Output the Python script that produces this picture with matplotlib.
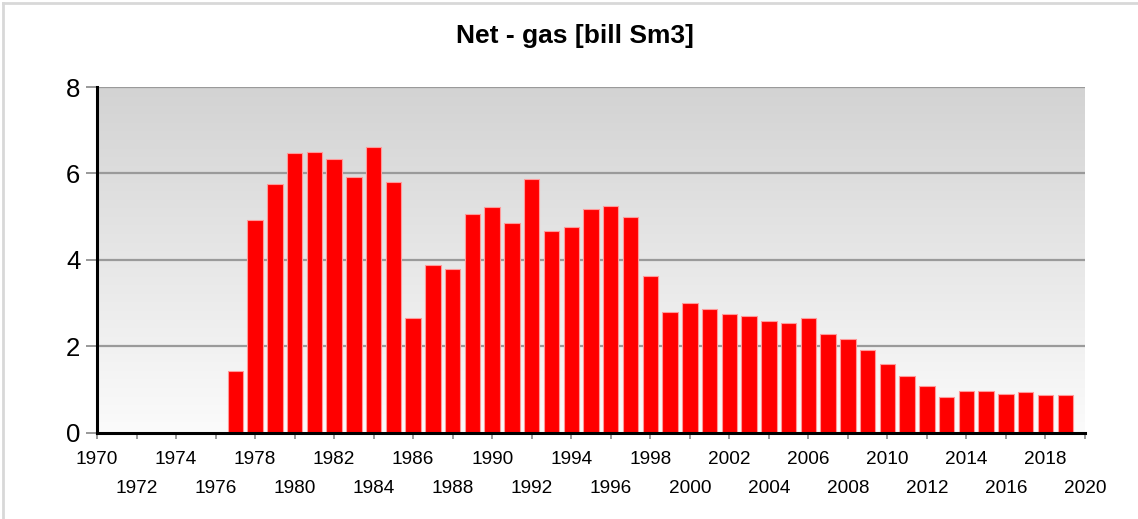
import numpy as np
import matplotlib
matplotlib.use("Agg")
import matplotlib.pyplot as plt
from matplotlib.lines import Line2D

plt.rcParams['font.family'] = ['Liberation Sans', 'DejaVu Sans']

title = "Net - gas [bill Sm3]"
years = list(range(1977, 2020))
values = [1.43, 4.93, 5.76, 6.47, 6.50, 6.34, 5.92, 6.60, 5.81, 2.65,
          3.88, 3.78, 5.05, 5.21, 4.84, 5.86, 4.66, 4.75, 5.18, 5.24,
          4.99, 3.62, 2.79, 3.01, 2.87, 2.74, 2.69, 2.58, 2.54, 2.64,
          2.29, 2.16, 1.91, 1.59, 1.31, 1.08, 0.83, 0.95, 0.97, 0.88,
          0.93, 0.86, 0.86]
row1_ticks = list(range(1970, 2021, 4))
row2_ticks = list(range(1972, 2021, 4))
y_ticks = [0, 2, 4, 6, 8]

W, H = 1138, 519
fig = plt.figure(figsize=(W / 100, H / 100), dpi=100)
fig.patch.set_facecolor('white')
ax = fig.add_axes([97 / W, 1 - 432.5 / H, (1085 - 97) / W, (432.5 - 87) / H])

# gradient background
grad = np.linspace(0, 1, 256).reshape(-1, 1)
top = np.array([0.827, 0.827, 0.827])
bot = np.array([0.985, 0.985, 0.985])
img = top[None, None, :] * (1 - grad[:, :, None]) + bot[None, None, :] * grad[:, :, None]
ax.imshow(img, extent=[0, 1, 0, 1], transform=ax.transAxes, aspect='auto', zorder=0)
ax.set_facecolor('white')

for yv in y_ticks[1:]:
    ax.axhline(yv, color='#9a9a9a', lw=1.6, zorder=1)

ax.bar(years, values, width=0.78, color='#ff0000', edgecolor='#ff9a9a', linewidth=0.8, zorder=2)

ax.set_xlim(1970, 2020)
ax.set_ylim(0, 8)

for s in ['top', 'right']:
    ax.spines[s].set_visible(False)
for s in ['left', 'bottom']:
    ax.spines[s].set_color('black')
    ax.spines[s].set_linewidth(2.2)
    ax.spines[s].set_zorder(3)

ax.set_yticks(y_ticks)
ax.set_yticklabels([str(v) for v in y_ticks])
ax.tick_params(axis='y', length=8, width=1.2, color='#888888', labelsize=18.5, pad=4)

ax.set_xticks(row1_ticks)
ax.set_xticklabels([str(v) for v in row1_ticks])
ax.set_xticks(row2_ticks, minor=True)
ax.set_xticklabels([str(v) for v in row2_ticks], minor=True)
ax.tick_params(axis='x', which='major', length=4, width=1.2, color='#888888', labelsize=13.7, pad=9)
ax.tick_params(axis='x', which='minor', length=4, width=1.2, color='#888888', labelsize=13.7, pad=30)

fig.text(575 / W, 1 - 36 / H, title, ha='center', va='center', fontsize=19, fontweight='bold')

# light outer frame
fig.add_artist(Line2D([3 / W, 1], [1 - 2.5 / H, 1 - 2.5 / H], transform=fig.transFigure, color='#d8d8d8', lw=2))
fig.add_artist(Line2D([3 / W, 3 / W], [0, 1 - 2.5 / H], transform=fig.transFigure, color='#d8d8d8', lw=2))

fig.savefig('out.png', dpi=100, facecolor='white')
